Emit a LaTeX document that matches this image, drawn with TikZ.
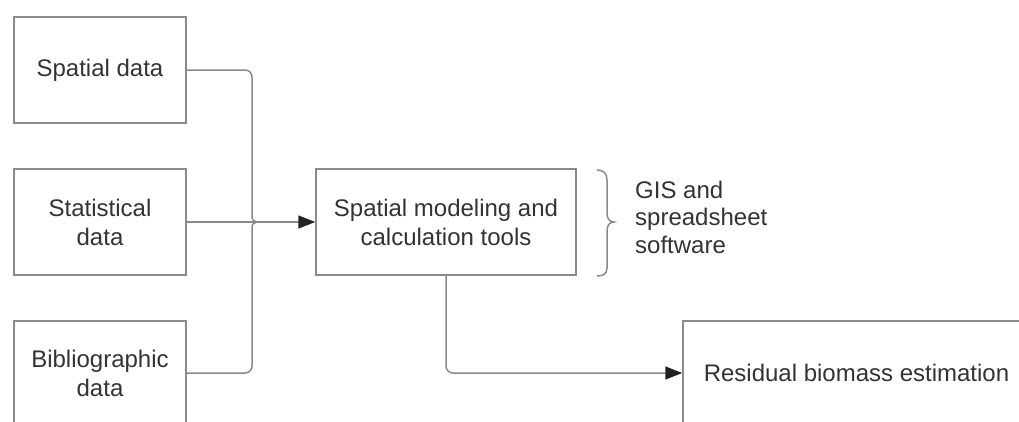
\documentclass[tikz,border=0pt]{standalone}
\usepackage{fontspec}
\setmainfont{Liberation Sans}
\usetikzlibrary{arrows.meta}
\definecolor{linegray}{HTML}{8A8A8A}
\definecolor{txt}{HTML}{333333}
\definecolor{tipc}{HTML}{222222}
\tikzset{
  box/.style={draw=linegray, line width=1.5pt, fill=white, inner sep=0pt, align=center, text=txt,
    font=\fontsize{24}{29}\selectfont},
  conn/.style={draw=linegray, line width=1.5pt},
  arr/.style={conn, -{Triangle[length=17pt,width=13pt,color=tipc]}},
  lbl/.style={text=txt, align=left, inner sep=0pt, font=\fontsize{24}{27.5}\selectfont}
}
\begin{document}
\begin{tikzpicture}[x=1pt,y=-1pt]
\useasboundingbox (0,0) rectangle (1019,421);
\begin{scope}
\clip (0,0) rectangle (1019,421);
\node[box, minimum width=172pt, minimum height=106pt] (b1) at (100,70) {Spatial data};
\node[box, minimum width=172pt, minimum height=106pt] (b2) at (100,222) {Statistical\\data};
\node[box, minimum width=172pt, minimum height=104pt] (b3) at (100,373) {Bibliographic\\data};
\node[box, minimum width=260pt, minimum height=106pt] (c) at (446,222) {Spatial modeling and\\calculation tools};
\node[box, minimum width=347pt, minimum height=104pt] (r) at (856.5,373) {Residual biomass estimation};
\end{scope}
\coordinate (j) at (252,222);
\coordinate (ja) at (252,216);
\coordinate (jb) at (252,228);
\coordinate (jt) at (257,222);
\draw[conn, rounded corners=7pt] (b1.east) -- (b1.east -| j) -- (ja);
\draw[conn] (ja) .. controls (252,220) and (254,222) .. (jt);
\draw[conn, rounded corners=7pt] (b3.east) -- (b3.east -| j) -- (jb);
\draw[conn] (jb) .. controls (252,224) and (254,222) .. (jt);
\draw[arr] (b2.east) -- (c.west);
\draw[arr, rounded corners=7pt] (c.south) |- (r.west);
% brace
\draw[conn] (597,170) .. controls (603,170) and (607,173) .. (607,180) -- (607,213)
  .. controls (607,218) and (609,222) .. (614,222)
  .. controls (609,222) and (607,226) .. (607,231) -- (607,268)
  .. controls (607,274) and (603,276) .. (597,276);
\node[lbl, anchor=west] (g) at (635,217) {GIS and\\spreadsheet\\software};
\end{tikzpicture}
\end{document}
